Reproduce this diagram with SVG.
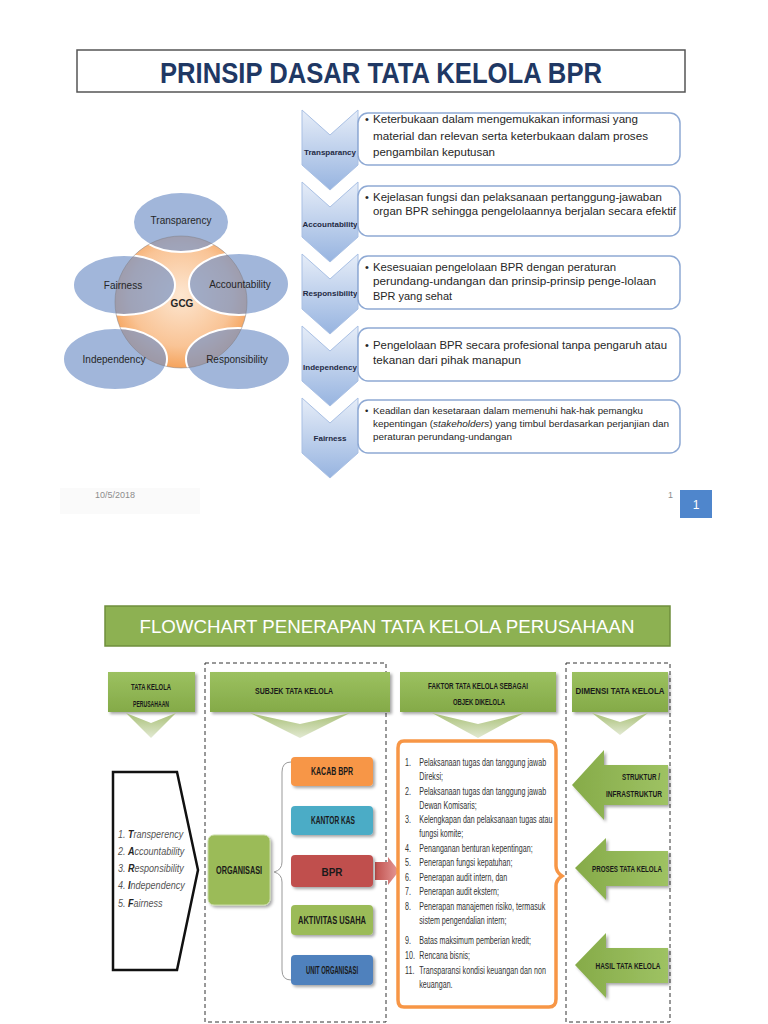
<svg xmlns="http://www.w3.org/2000/svg" width="768" height="1024" viewBox="0 0 768 1024">
<defs>
  <linearGradient id="chevGrad" x1="0" y1="0" x2="0" y2="1">
    <stop offset="0" stop-color="#e6edf8"/>
    <stop offset="1" stop-color="#97b4e0"/>
  </linearGradient>
  <radialGradient id="orangeGrad" cx="0.5" cy="0.45" r="0.55">
    <stop offset="0" stop-color="#fde6d0"/>
    <stop offset="0.7" stop-color="#f9c496"/>
    <stop offset="1" stop-color="#f5a35c"/>
  </radialGradient>
  <linearGradient id="greenGrad" x1="0" y1="0" x2="0" y2="1">
    <stop offset="0" stop-color="#9cc160"/>
    <stop offset="1" stop-color="#84aa48"/>
  </linearGradient>
  <linearGradient id="downGrad" x1="0" y1="0" x2="0" y2="1">
    <stop offset="0" stop-color="#a8c076"/>
    <stop offset="1" stop-color="#e2e9d2"/>
  </linearGradient>
  <linearGradient id="leftGrad" x1="0" y1="0" x2="1" y2="0">
    <stop offset="0" stop-color="#86ab49"/>
    <stop offset="1" stop-color="#9ec263"/>
  </linearGradient>
  <linearGradient id="redArrow" x1="0" y1="0" x2="1" y2="0">
    <stop offset="0" stop-color="#c0504d"/>
    <stop offset="1" stop-color="#e59a98"/>
  </linearGradient>
  <filter id="shadow" x="-20%" y="-20%" width="150%" height="160%">
    <feDropShadow dx="2" dy="2" stdDeviation="1.5" flood-color="#000" flood-opacity="0.35"/>
  </filter>
  <style>
    .ell { fill: #7593c8; fill-opacity: 0.68; stroke: #ffffff; stroke-width: 2; }
    .ellTxt { font-family: "Liberation Sans", Arial, sans-serif; font-size: 10px; fill: #262626; text-anchor: middle; }
    .chev { fill: url(#chevGrad); stroke: #a9c0e4; stroke-width: 1; }
    .chevTxt { font-family: "Liberation Sans", Arial, sans-serif; font-size: 8px; font-weight: bold; fill: #1f2a44; text-anchor: middle; }
    .box { fill: #ffffff; stroke: #8ea9d4; stroke-width: 1.5; }
    .boxTxt { font-family: "Liberation Sans", Arial, sans-serif; font-size: 11px; fill: #262626; }
    .boxTxtS { font-family: "Liberation Sans", Arial, sans-serif; font-size: 9.5px; fill: #262626; }
    .hdr { fill: url(#greenGrad); filter: url(#shadow); }
    .hdrTxt { font-family: "Liberation Sans", Arial, sans-serif; font-size: 9.5px; font-weight: bold; fill: #1a1a1a; text-anchor: middle; }
    .down { fill: url(#downGrad); }
    .dash { fill: none; stroke: #333; stroke-width: 1; stroke-dasharray: 4 3; }
    .small { stroke: none; filter: url(#shadow); }
    .smallTxt { font-family: "Liberation Sans", Arial, sans-serif; font-size: 10px; font-weight: bold; fill: #1a1a1a; text-anchor: middle; }
    .list { font-family: "Liberation Sans", Arial, sans-serif; font-size: 10.5px; fill: #333; }
    .prin { font-family: "Liberation Sans", Arial, sans-serif; font-size: 10.5px; fill: #555; font-style: italic; }
    .left { fill: url(#leftGrad); filter: url(#shadow); }
  </style>
</defs>
<rect width="768" height="1024" fill="#ffffff"/>

<!-- Title -->
<g id="title">
  <rect x="77" y="50" width="608" height="42" fill="#ffffff" stroke="#555" stroke-width="1.5"/>
  <text x="381" y="83" text-anchor="middle" font-family="Liberation Sans, Arial, sans-serif" font-size="30" font-weight="bold" fill="#1f3864" textLength="442" lengthAdjust="spacingAndGlyphs">PRINSIP DASAR TATA KELOLA BPR</text>
</g>

<!-- Venn -->
<g id="gcg-circle">
  <circle cx="181" cy="302" r="66" fill="url(#orangeGrad)"/>
</g>
<g id="venn-ellipses">
  <g id="e-transparency"><ellipse class="ell" cx="181" cy="222" rx="48" ry="30"/></g>
  <g id="e-fairness"><ellipse class="ell" cx="124" cy="285" rx="51" ry="30"/></g>
  <g id="e-accountability"><ellipse class="ell" cx="239" cy="284" rx="50" ry="31"/></g>
  <g id="e-independency"><ellipse class="ell" cx="115" cy="359" rx="52" ry="31"/></g>
  <g id="e-responsibility"><ellipse class="ell" cx="238" cy="359" rx="52" ry="31"/></g>
</g>
<circle cx="181" cy="302" r="66" fill="none" stroke="#7f7f88" stroke-opacity="0.5" stroke-width="1"/>
<g id="venn-labels">
  <text class="ellTxt" x="181" y="224">Transparency</text>
  <text class="ellTxt" x="123" y="289" font-size="11">Fairness</text>
  <text class="ellTxt" x="240" y="288">Accountability</text>
  <text class="ellTxt" x="114" y="363">Independency</text>
  <text class="ellTxt" x="237" y="363">Responsibility</text>
  <text class="ellTxt" x="182" y="307" font-weight="bold">GCG</text>
</g>

<!-- Chevrons and description boxes -->
<g id="p-transparency">
  <polygon class="chev" points="302,110 330,135 358,110 358,165 330,190 302,165"/>
  <text class="chevTxt" x="330" y="155">Transparancy</text>
  <rect class="box" x="358" y="113" width="322" height="52" rx="10"/>
  <text class="boxTxt" x="365" y="123">•</text>
  <text class="boxTxt" x="373" y="123" textLength="265" lengthAdjust="spacingAndGlyphs">Keterbukaan dalam mengemukakan informasi yang</text>
  <text class="boxTxt" x="373" y="140" textLength="275" lengthAdjust="spacingAndGlyphs">material dan relevan serta keterbukaan dalam proses</text>
  <text class="boxTxt" x="373" y="156" textLength="122" lengthAdjust="spacingAndGlyphs">pengambilan keputusan</text>
</g>
<g id="p-accountability">
  <polygon class="chev" points="302,182 330,207 358,182 358,237 330,262 302,237"/>
  <text class="chevTxt" x="330" y="227">Accountability</text>
  <rect class="box" x="358" y="186" width="322" height="50" rx="10"/>
  <text class="boxTxt" x="365" y="201">•</text>
  <text class="boxTxt" x="373" y="201" textLength="289" lengthAdjust="spacingAndGlyphs">Kejelasan fungsi dan pelaksanaan pertanggung-jawaban</text>
  <text class="boxTxt" x="373" y="215" textLength="303" lengthAdjust="spacingAndGlyphs">organ BPR sehingga pengelolaannya berjalan secara efektif</text>
</g>
<g id="p-responsibility">
  <polygon class="chev" points="302,254 330,279 358,254 358,309 330,334 302,309"/>
  <text class="chevTxt" x="330" y="296">Responsibility</text>
  <rect class="box" x="358" y="256" width="322" height="53" rx="10"/>
  <text class="boxTxt" x="365" y="271">•</text>
  <text class="boxTxt" x="373" y="271" textLength="243" lengthAdjust="spacingAndGlyphs">Kesesuaian pengelolaan BPR dengan peraturan</text>
  <text class="boxTxt" x="373" y="285" textLength="283" lengthAdjust="spacingAndGlyphs">perundang-undangan dan prinsip-prinsip penge-lolaan</text>
  <text class="boxTxt" x="373" y="300" textLength="79" lengthAdjust="spacingAndGlyphs">BPR yang sehat</text>
</g>
<g id="p-independency">
  <polygon class="chev" points="302,326 330,351 358,326 358,381 330,406 302,381"/>
  <text class="chevTxt" x="330" y="370">Independency</text>
  <rect class="box" x="358" y="328" width="322" height="53" rx="10"/>
  <text class="boxTxt" x="365" y="349">•</text>
  <text class="boxTxt" x="373" y="349" textLength="294" lengthAdjust="spacingAndGlyphs">Pengelolaan BPR secara profesional tanpa pengaruh atau</text>
  <text class="boxTxt" x="373" y="364" textLength="148" lengthAdjust="spacingAndGlyphs">tekanan dari pihak manapun</text>
</g>
<g id="p-fairness">
  <polygon class="chev" points="302,398 330,423 358,398 358,453 330,478 302,453"/>
  <text class="chevTxt" x="330" y="441">Fairness</text>
  <rect class="box" x="358" y="400" width="322" height="53" rx="10"/>
  <text class="boxTxtS" x="365" y="414">•</text>
  <text class="boxTxtS" x="373" y="414" textLength="270" lengthAdjust="spacingAndGlyphs">Keadilan dan kesetaraan dalam memenuhi hak-hak pemangku</text>
  <text class="boxTxtS" x="373" y="427" textLength="296" lengthAdjust="spacingAndGlyphs">kepentingan (<tspan font-style="italic">stakeholders</tspan>) yang timbul berdasarkan perjanjian dan</text>
  <text class="boxTxtS" x="373" y="440" textLength="139" lengthAdjust="spacingAndGlyphs">peraturan perundang-undangan</text>
</g>

<!-- Footer -->
<g id="footer">
  <rect x="60" y="488" width="140" height="26" fill="#fafafa"/>
  <text x="95" y="498" font-family="Liberation Sans, Arial, sans-serif" font-size="9" fill="#8c8c8c">10/5/2018</text>
  <text x="668" y="498" font-family="Liberation Sans, Arial, sans-serif" font-size="9" fill="#8c8c8c">1</text>
  <rect x="680" y="490" width="32" height="28" fill="#4f86cc"/>
  <text x="696" y="509" text-anchor="middle" font-family="Liberation Sans, Arial, sans-serif" font-size="12" fill="#ffffff">1</text>
</g>

<!-- Flowchart title -->
<g id="flow-title">
  <rect x="105" y="606" width="565" height="40" fill="#8db152" stroke="#6f8f3c" stroke-width="1.5"/>
  <text x="387" y="633" text-anchor="middle" font-family="Liberation Sans, Arial, sans-serif" font-size="18" fill="#ffffff" textLength="495" lengthAdjust="spacingAndGlyphs">FLOWCHART PENERAPAN TATA KELOLA PERUSAHAAN</text>
</g>

<!-- Dashed containers -->
<g id="containers">
  <rect class="dash" x="205" y="663" width="181" height="359"/>
  <rect class="dash" x="566" y="663" width="104" height="359"/>
</g>

<!-- Header arrows -->
<g id="h-tata-kelola">
  <rect class="hdr" x="108" y="672" width="87" height="40"/>
  <text class="hdrTxt" x="151" y="690" textLength="40" lengthAdjust="spacingAndGlyphs">TATA KELOLA</text>
  <text class="hdrTxt" x="151" y="707" textLength="36" lengthAdjust="spacingAndGlyphs">PERUSAHAAN</text>
  <polygon class="down" points="126,713 151,723 176,713 151,738"/>
</g>
<g id="h-subjek">
  <rect class="hdr" x="210" y="672" width="180" height="40"/>
  <text class="hdrTxt" x="294" y="694" textLength="78" lengthAdjust="spacingAndGlyphs">SUBJEK TATA KELOLA</text>
  <polygon class="down" points="250,713 300,724 350,713 300,738"/>
</g>
<g id="h-faktor">
  <rect class="hdr" x="400" y="672" width="156" height="40"/>
  <text class="hdrTxt" x="478" y="689" textLength="100" lengthAdjust="spacingAndGlyphs">FAKTOR TATA KELOLA SEBAGAI</text>
  <text class="hdrTxt" x="479" y="705" textLength="52" lengthAdjust="spacingAndGlyphs">OBJEK DIKELOLA</text>
  <polygon class="down" points="432,713 478,724 524,713 478,738"/>
</g>
<g id="h-dimensi">
  <rect class="hdr" x="572" y="672" width="96" height="40"/>
  <text class="hdrTxt" x="620" y="694" textLength="89" lengthAdjust="spacingAndGlyphs">DIMENSI TATA KELOLA</text>
  <polygon class="down" points="592,713 620,722 648,713 620,735"/>
</g>

<!-- Principles pentagon -->
<g id="principles">
  <polygon points="113,772 177,772 198,870 177,970 113,970" fill="#ffffff" stroke="#111" stroke-width="2.5"/>
  <g transform="translate(118,0) scale(0.86,1)">
    <text class="prin" x="0" y="838">1. <tspan font-weight="bold" fill="#222">T</tspan>ransperency</text>
    <text class="prin" x="0" y="855">2. <tspan font-weight="bold" fill="#222">A</tspan>ccountability</text>
    <text class="prin" x="0" y="872">3. <tspan font-weight="bold" fill="#222">R</tspan>esponsibility</text>
    <text class="prin" x="0" y="889">4. <tspan font-weight="bold" fill="#222">I</tspan>ndependency</text>
    <text class="prin" x="0" y="907">5. <tspan font-weight="bold" fill="#222">F</tspan>airness</text>
  </g>
</g>

<!-- Organisasi -->
<g id="organisasi">
  <rect x="208" y="835" width="62" height="70" rx="6" fill="#9bbb59" stroke="#c9dba6" stroke-width="1" filter="url(#shadow)"/>
  <text class="smallTxt" x="239" y="874" textLength="46" lengthAdjust="spacingAndGlyphs">ORGANISASI</text>
</g>

<g id="connectors">
  <path d="M291,762 Q282,762 282,772 L282,862 Q282,870 274,872 Q282,874 282,882 L282,970 Q282,980 291,980" fill="none" stroke="#999" stroke-width="1"/>
  <polygon points="375,862 388,862 388,857 399,871 388,885 388,880 375,880" fill="url(#redArrow)"/>
</g>

<g id="kacab"><rect class="small" x="291" y="757" width="82" height="29" rx="4" fill="#f79646"/><text class="smallTxt" x="332" y="775" textLength="42" lengthAdjust="spacingAndGlyphs">KACAB BPR</text></g>
<g id="kantor-kas"><rect class="small" x="291" y="806" width="82" height="29" rx="4" fill="#4bacc6"/><text class="smallTxt" x="333" y="824" textLength="44" lengthAdjust="spacingAndGlyphs">KANTOR KAS</text></g>
<g id="bpr"><rect class="small" x="291" y="855" width="82" height="32" rx="4" fill="#c0504d"/><text class="smallTxt" x="332" y="876" font-size="12" textLength="21" lengthAdjust="spacingAndGlyphs">BPR</text></g>
<g id="aktivitas"><rect class="small" x="291" y="905" width="82" height="30" rx="4" fill="#9bbb59"/><text class="smallTxt" x="332" y="924" textLength="68" lengthAdjust="spacingAndGlyphs">AKTIVITAS USAHA</text></g>
<g id="unit"><rect class="small" x="291" y="955" width="82" height="30" rx="4" fill="#4f81bd"/><text class="smallTxt" x="332" y="974" textLength="52" lengthAdjust="spacingAndGlyphs" fill="#1b2a4a">UNIT ORGANISASI</text></g>

<!-- Factors list -->
<g id="faktor-list">
  <path d="M404,741 L549,741 Q556,741 556,750 L556,866 Q556,872 562,876 Q556,880 556,886 L556,999 Q556,1007 549,1007 L404,1007 Q398,1007 398,1000 L398,748 Q398,741 404,741 Z" fill="#ffffff" stroke="#f79646" stroke-width="3.5"/>
  <g transform="translate(405,0) scale(0.68,1)">
    <text class="list" x="0" y="766">1.</text><text class="list" x="21" y="766">Pelaksanaan tugas dan tanggung jawab</text>
    <text class="list" x="21" y="780">Direksi;</text>
    <text class="list" x="0" y="795">2.</text><text class="list" x="21" y="795">Pelaksanaan tugas dan tanggung jawab</text>
    <text class="list" x="21" y="809">Dewan Komisaris;</text>
    <text class="list" x="0" y="823">3.</text><text class="list" x="21" y="823">Kelengkapan dan pelaksanaan tugas atau</text>
    <text class="list" x="21" y="837">fungsi komite;</text>
    <text class="list" x="0" y="852">4.</text><text class="list" x="21" y="852">Penanganan benturan kepentingan;</text>
    <text class="list" x="0" y="866">5.</text><text class="list" x="21" y="866">Penerapan fungsi kepatuhan;</text>
    <text class="list" x="0" y="881">6.</text><text class="list" x="21" y="881">Penerapan audit intern, dan</text>
    <text class="list" x="0" y="895">7.</text><text class="list" x="21" y="895">Penerapan audit ekstern;</text>
    <text class="list" x="0" y="910">8.</text><text class="list" x="21" y="910">Penerapan manajemen risiko, termasuk</text>
    <text class="list" x="21" y="924">sistem pengendalian intern;</text>
    <text class="list" x="0" y="944">9.</text><text class="list" x="21" y="944">Batas maksimum pemberian kredit;</text>
    <text class="list" x="0" y="959">10.</text><text class="list" x="21" y="959">Rencana bisnis;</text>
    <text class="list" x="0" y="974">11.</text><text class="list" x="21" y="974">Transparansi kondisi keuangan dan non</text>
    <text class="list" x="21" y="988">keuangan.</text>
  </g>
</g>

<!-- Dimension arrows -->
<g id="struktur">
  <polygon class="left" points="572,785 604,750 604,765 668,765 668,805 604,805 604,820"/>
  <text class="hdrTxt" x="660" y="780" style="text-anchor:end" textLength="38" lengthAdjust="spacingAndGlyphs">STRUKTUR /</text>
  <text class="hdrTxt" x="662" y="797" style="text-anchor:end" textLength="56" lengthAdjust="spacingAndGlyphs">INFRASTRUKTUR</text>
</g>
<g id="proses">
  <polygon class="left" points="575,868 606,838 606,851 668,851 668,886 606,886 606,900"/>
  <text class="hdrTxt" x="627" y="872" textLength="70" lengthAdjust="spacingAndGlyphs">PROSES TATA KELOLA</text>
</g>
<g id="hasil">
  <polygon class="left" points="575,965 606,933 606,948 668,948 668,983 606,983 606,998"/>
  <text class="hdrTxt" x="628" y="969" textLength="65" lengthAdjust="spacingAndGlyphs">HASIL TATA KELOLA</text>
</g>
</svg>
